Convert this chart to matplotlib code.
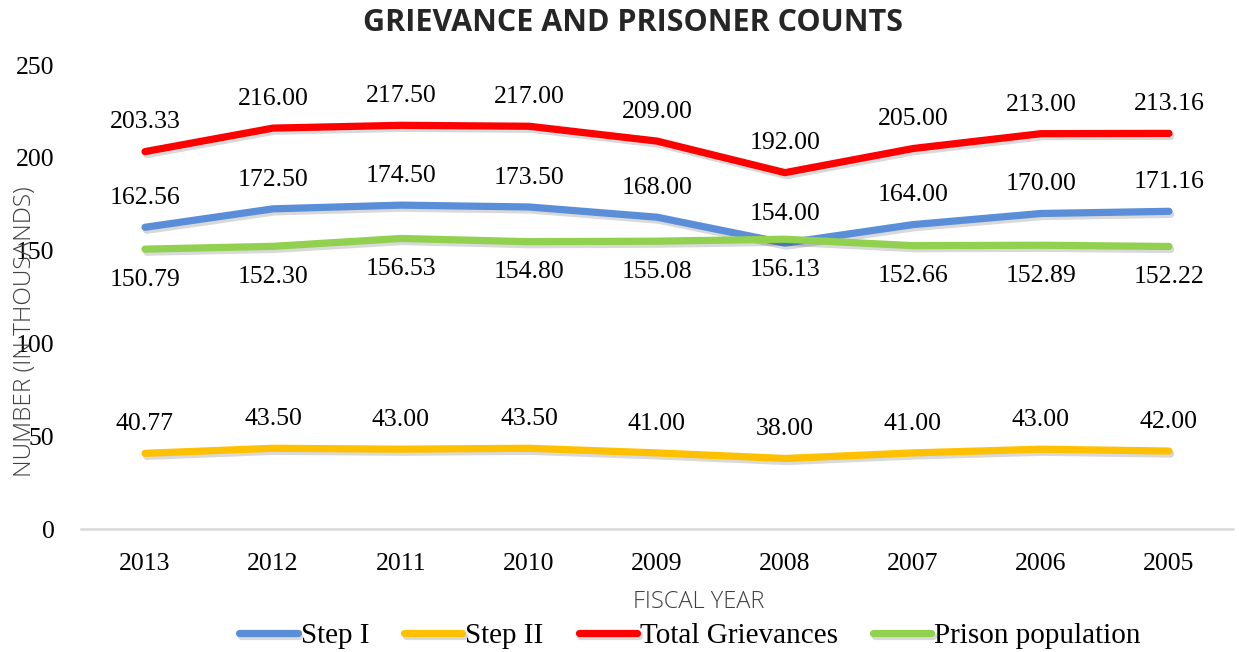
import matplotlib
matplotlib.use("Agg")
import matplotlib.pyplot as plt
import matplotlib.patheffects as pe

years = ["2013", "2012", "2011", "2010", "2009", "2008", "2007", "2006", "2005"]
step1 = [162.56, 172.50, 174.50, 173.50, 168.00, 154.00, 164.00, 170.00, 171.16]
step2 = [40.77, 43.50, 43.00, 43.50, 41.00, 38.00, 41.00, 43.00, 42.00]
total = [203.33, 216.00, 217.50, 217.00, 209.00, 192.00, 205.00, 213.00, 213.16]
prison = [150.79, 152.30, 156.53, 154.80, 155.08, 156.13, 152.66, 152.89, 152.22]
yticks = [0, 50, 100, 150, 200, 250]

series = [
    ("Step I", step1, "#5A8ED8", "above"),
    ("Step II", step2, "#FFC000", "above"),
    ("Total Grievances", total, "#FF0000", "above"),
    ("Prison population", prison, "#92D050", "below"),
]

serif = ["Liberation Serif", "DejaVu Serif"]

fig = plt.figure(figsize=(12.39, 6.52), dpi=100)
ax = fig.add_axes([81 / 1239, (652 - 529) / 652, 1152 / 1239, (529 - 65) / 652])

x = list(range(len(years)))
shadow = [pe.SimpleLineShadow(offset=(1.2, -2.2), shadow_color="black", alpha=0.15),
          pe.Normal()]
for name, vals, color, pos in series:
    ax.plot(x, vals, color=color, lw=5.2, solid_capstyle="round",
            solid_joinstyle="round", label=name, path_effects=shadow)
    for xi, v in zip(x, vals):
        off = 21 if pos == "above" else -22
        ax.annotate(f"{v:.2f}", (xi, v), xytext=(0, off), textcoords="offset points",
                    ha="center", va="center", fontsize=18.5, family=serif, color="#000000")

ax.set_xlim(-0.5, len(years) - 0.5)
ax.set_ylim(0, 250)
ax.set_xticks(x)
ax.set_xticklabels(years, family=serif, fontsize=18.5)
ax.set_yticks(yticks)
ax.set_yticklabels([str(t) for t in yticks], family=serif, fontsize=18.5)
ax.tick_params(axis="both", length=0)
ax.tick_params(axis="x", pad=17)
ax.tick_params(axis="y", pad=19)
for s in ["top", "right", "left"]:
    ax.spines[s].set_visible(False)
ax.spines["bottom"].set_color("#D9D9D9")
ax.spines["bottom"].set_linewidth(1.8)

fig.text(633 / 1239, 1 - 23 / 652, "GRIEVANCE AND PRISONER COUNTS", ha="center", va="center",
         fontsize=22, fontweight="bold", family=["Open Sans", "DejaVu Sans"], color="#262626")
fig.text(699 / 1239, 1 - 602 / 652, "FISCAL YEAR", ha="center", va="center",
         fontsize=17, fontweight="light", family=["Open Sans", "DejaVu Sans"], color="#404040")
fig.text(25 / 1239, 1 - 332 / 652, "NUMBER (IN THOUSANDS)", ha="center", va="center",
         rotation=90, fontsize=17.5, fontweight="light", family=["Open Sans", "DejaVu Sans"],
         color="#404040")

leg = fig.legend(loc="center", bbox_to_anchor=(690 / 1239, 1 - 636 / 652), ncol=4,
                 frameon=False, prop={"family": serif, "size": 21},
                 handlelength=2.0, handletextpad=0.1, columnspacing=1.2)
for h in leg.get_lines():
    h.set_linewidth(5.2)
    h.set_solid_capstyle("round")

fig.savefig("out.png", dpi=100)
